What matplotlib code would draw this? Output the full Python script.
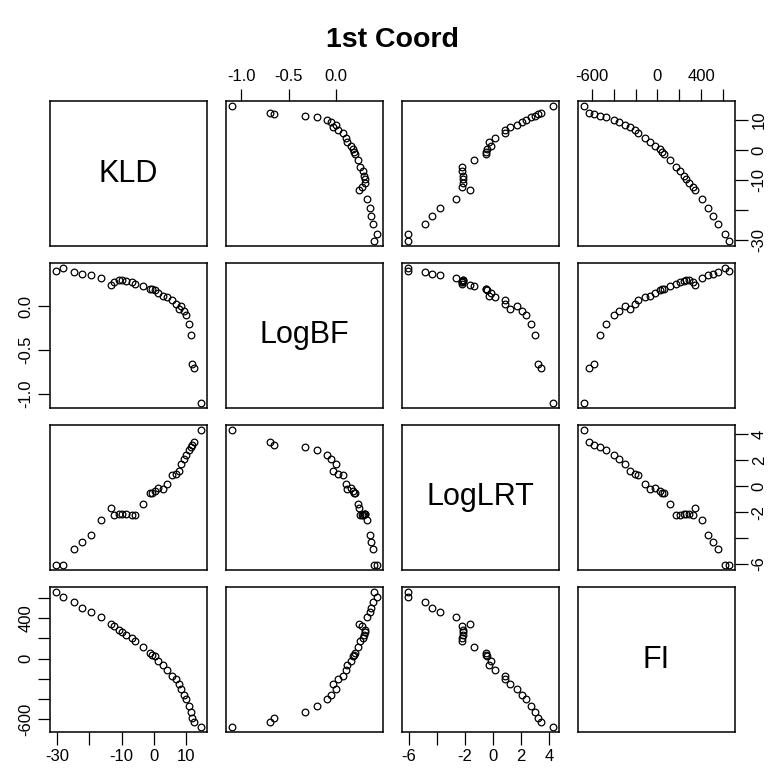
import matplotlib
matplotlib.use("Agg")
import matplotlib.pyplot as plt

plt.rcParams['font.family'] = ['Liberation Sans', 'DejaVu Sans']

# Variables of the scatterplot matrix
names = ["KLD", "LogBF", "LogLRT", "FI"]

kld = [14.6, 12.5, 11.9, 11.4, 10.9, 10.0, 9.4, 8.4, 7.6, 6.7, 5.7, 3.9, 2.8, 1.2,
       0.2, -0.6, -1.3, -3.3, -5.8, -6.9, -8.7, -9.8, -10.9, -12.2, -13.4, -16.4,
       -19.4, -22.1, -24.6, -28.0, -30.3]
logbf = [-1.10, -0.70, -0.66, -0.33, -0.20, -0.10, -0.06, 0.00, -0.03, 0.02, 0.07,
         0.10, 0.11, 0.15, 0.18, 0.19, 0.20, 0.23, 0.25, 0.28, 0.29, 0.30, 0.30,
         0.27, 0.24, 0.32, 0.35, 0.37, 0.39, 0.43, 0.40]
loglrt = [4.30, 3.40, 3.20, 3.00, 2.75, 2.40, 2.10, 1.70, 1.20, 0.90, 0.85, 0.15,
          -0.25, -0.15, -0.40, -0.50, -0.50, -1.35, -2.20, -2.20, -2.15, -2.15,
          -2.15, -2.20, -1.65, -2.60, -3.75, -4.30, -4.85, -6.05, -6.05]
fi = [-675, -630, -585, -530, -470, -397, -357, -297, -252, -206, -175, -115, -64,
      -25, 21, 40, 57, 112, 173, 209, 239, 262, 288, 325, 348, 409, 466, 506, 557,
      615, 657]

data = [kld, logbf, loglrt, fi]

# Tick positions and the labels that are printed at them
tick_pos = [[-30, -20, -10, 0, 10],
            [-1.0, -0.5, 0.0],
            [-6, -4, -2, 0, 2, 4],
            [-600, -400, -200, 0, 200, 400, 600]]
tick_txt = [["-30", "", "-10", "0", "10"],
            ["-1.0", "-0.5", "0.0"],
            ["-6", "", "-2", "0", "2", "4"],
            ["-600", "", "", "0", "", "400", ""]]

W, H = 776, 778
fig = plt.figure(figsize=(W / 100, H / 100), dpi=100)

left0, top0 = 50, 101
pw, ph = 157, 145
gx, gy = 19, 17


def padded(v):
    lo, hi = min(v), max(v)
    r = hi - lo
    return lo - 0.04 * r, hi + 0.04 * r


lims = [padded(v) for v in data]
n = len(names)

for i in range(n):
    for j in range(n):
        x0 = left0 + j * (pw + gx)
        y0 = top0 + i * (ph + gy)
        ax = fig.add_axes([x0 / W, 1 - (y0 + ph) / H, pw / W, ph / H])
        for s in ax.spines.values():
            s.set_linewidth(1.1)
            s.set_color("black")
        ax.set_xlim(lims[j])
        ax.set_ylim(lims[i])
        ax.set_xticks([])
        ax.set_yticks([])
        if i == j:
            ax.text(0.5, 0.5, names[i], transform=ax.transAxes, ha="center",
                    va="center", fontsize=22)
        else:
            ax.plot(data[j], data[i], linestyle="none", marker="o", markersize=4.8,
                    markerfacecolor="none", markeredgecolor="black",
                    markeredgewidth=0.9)

        tp = dict(direction="out", length=9, width=0.9, labelsize=12, pad=3,
                  colors="black")
        if i == 0 and j % 2 == 1:
            ax.set_xticks(tick_pos[j], tick_txt[j])
            ax.xaxis.tick_top()
            ax.tick_params(axis="x", **tp)
        if i == n - 1 and j % 2 == 0:
            ax.set_xticks(tick_pos[j], tick_txt[j])
            ax.tick_params(axis="x", **tp)
        if j == 0 and i % 2 == 1:
            ax.set_yticks(tick_pos[i], tick_txt[i])
            ax.tick_params(axis="y", labelrotation=90, **tp)
            for lab in ax.get_yticklabels():
                lab.set_va("center")
        if j == n - 1 and i % 2 == 0:
            ax.set_yticks(tick_pos[i], tick_txt[i])
            ax.yaxis.tick_right()
            ax.tick_params(axis="y", labelrotation=90, **tp)
            for lab in ax.get_yticklabels():
                lab.set_va("center")

fig.text((left0 + (4 * pw + 3 * gx) / 2) / W, 1 - 40 / H, "1st Coord",
         ha="center", va="center", fontsize=20.5, fontweight="bold")

fig.savefig("out.png", dpi=100)
